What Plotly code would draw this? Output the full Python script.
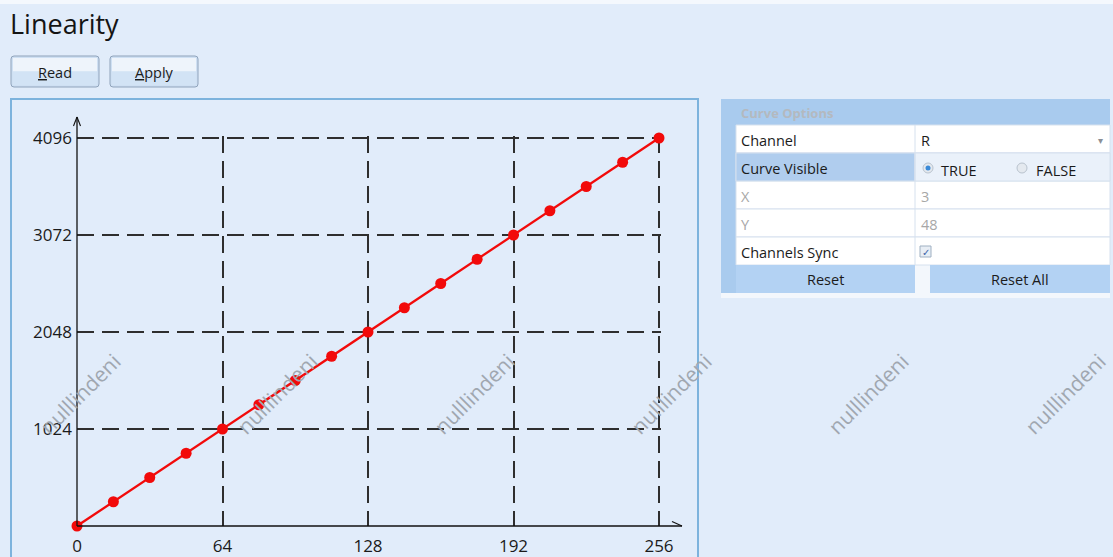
import plotly.graph_objects as go

# ---- data ----
input_levels = [0, 16, 32, 48, 64, 80, 96, 112, 128, 144, 160, 176, 192, 208, 224, 240, 256]
output_levels = [0, 256, 512, 768, 1024, 1280, 1536, 1792, 2048, 2304, 2560, 2816, 3072, 3328,
                 3584, 3840, 4096]
x_ticks = [0, 64, 128, 192, 256]
y_ticks = [1024, 2048, 3072, 4096]

W, H = 1113, 557
BG = "#e1ecfa"
FONT = "Open Sans"

# pixel frame of the plotting area (x: 0 -> 256, y: 0 -> 4096)
X0_PX, X1_PX = 77, 659
Y0_PX, Y1_PX = 526, 138
PAD = 2  # keep the outermost grid lines inside the plotting area


def px(x):
    return x / W


def py(y):
    return 1 - y / H


shapes = []
annotations = []


def rect(x0, y0, x1, y1, fill, line=None, lw=1, layer="below"):
    shapes.append(dict(type="rect", xref="paper", yref="paper",
                       x0=px(x0), x1=px(x1), y0=py(y1), y1=py(y0),
                       fillcolor=fill, layer=layer,
                       line=dict(color=line or fill, width=lw if line else 0)))


def seg(x0, y0, x1, y1, color, width=1, layer="above", dash="solid"):
    shapes.append(dict(type="line", xref="paper", yref="paper",
                       x0=px(x0), x1=px(x1), y0=py(y0), y1=py(y1), layer=layer,
                       line=dict(color=color, width=width, dash=dash)))


def text(x, y, s, size=15, color="#1b1b1b", xanchor="left", angle=0, family=FONT):
    annotations.append(dict(x=px(x), y=py(y), xref="paper", yref="paper", text=s,
                            showarrow=False, xanchor=xanchor, yanchor="middle",
                            textangle=angle,
                            font=dict(family=family, size=size, color=color)))


# top strip
rect(0, 0, W, 4, "#f4f8fd")

# title
text(8, 24, "Linearity", size=27, color="#141414")


# buttons
def button(x0, x1, label):
    y0, y1, r = 56, 87, 3
    path = (f"M {px(x0 + r)},{py(y0)} L {px(x1 - r)},{py(y0)} "
            f"Q {px(x1)},{py(y0)} {px(x1)},{py(y0 + r)} L {px(x1)},{py(y1 - r)} "
            f"Q {px(x1)},{py(y1)} {px(x1 - r)},{py(y1)} L {px(x0 + r)},{py(y1)} "
            f"Q {px(x0)},{py(y1)} {px(x0)},{py(y1 - r)} L {px(x0)},{py(y0 + r)} "
            f"Q {px(x0)},{py(y0)} {px(x0 + r)},{py(y0)} Z")
    shapes.append(dict(type="path", xref="paper", yref="paper", path=path,
                       fillcolor="#cfe0f3", layer="below",
                       line=dict(color="#8fa3bb", width=1)))
    rect(x0 + 2, y0 + 2, x1 - 2, (y0 + y1) / 2, "#eef4fb")
    rect(x0 + 2, (y0 + y1) / 2, x1 - 2, y1 - 2, "#d2e3f5")
    text((x0 + x1) / 2, 72, label, size=14.5, xanchor="center")


button(11, 99, "<span style='text-decoration:underline'>R</span>ead")
button(110, 198, "<span style='text-decoration:underline'>A</span>pply")

# chart frame
rect(11, 99, 698, 560, BG, line="#7db3dd", lw=2)

# axis lines with arrowheads
AX = "#111111"
seg(77, 526, 682, 526, AX, 1.3)
seg(77, 526, 77, 117, AX, 1.3)
seg(77, 117, 73.5, 126, AX, 1.1)
seg(77, 117, 80.5, 126, AX, 1.1)
seg(682, 526, 672, 521.5, AX, 1.1)

# ---- options panel ----
PX0, PX1, COL = 721, 1110, 915
BLUE = "#a9cbee"
rect(PX0, 99, PX1, 298, "#f3f7fc")
rect(PX0, 99, PX1, 125, BLUE)
rect(PX0, 99, 736, 293, BLUE)
rows = [(125, 153), (153, 181), (181, 209), (209, 237), (237, 265)]
for (a, b) in rows:
    rect(736, a, PX1, b, "#ffffff", line="#d6e1ee", lw=1)
rect(736, 153, COL, 181, "#b0cdee", line="#d6e1ee", lw=1)
rect(COL, 153, PX1, 181, "#eaf1fa", line="#d6e1ee", lw=1)
seg(COL, 125, COL, 265, "#d6e1ee", 1, layer="below")
rect(736, 265, COL, 293, "#b3d2f3")
rect(930, 265, PX1, 293, "#b3d2f3")

text(739, 113, "<b>Curve Options</b>", size=13, color="#b4b9bf")
text(739, 140, "Channel", size=14.5)
text(919, 140, "R", size=14.5)
text(1100, 140, "▾", size=10, color="#8a8f96", xanchor="center")
text(739, 168, "Curve Visible", size=14.5)
text(939, 170, "TRUE", size=14.5)
text(1034, 170, "FALSE", size=14.5)
text(739, 196, "X", size=14.5, color="#a7a7a7")
text(919, 196, "3", size=14.5, color="#a7a7a7")
text(739, 224, "Y", size=14.5, color="#a7a7a7")
text(919, 224, "48", size=14.5, color="#a7a7a7")
text(739, 252, "Channels Sync", size=14.5)
text(825, 279, "Reset", size=14.5, xanchor="center")
text(1020, 279, "Reset All", size=14.5, xanchor="center")

# radio buttons
for cx, on in [(928, True), (1022, False)]:
    shapes.append(dict(type="circle", xref="paper", yref="paper",
                       x0=px(cx - 5), x1=px(cx + 5), y0=py(173), y1=py(163),
                       fillcolor="#e4e9ef", line=dict(color="#b9c3ce", width=1), layer="above"))
    if on:
        shapes.append(dict(type="circle", xref="paper", yref="paper",
                           x0=px(cx - 2.5), x1=px(cx + 2.5), y0=py(170.5), y1=py(165.5),
                           fillcolor="#3a8ad8", line=dict(width=0), layer="above"))

# checkbox
rect(920, 246, 931, 257, "#e8eef5", line="#9fb0c2", lw=1, layer="above")
text(925.5, 251.5, "✓", size=10, color="#3a62a8", xanchor="center")

# watermark
for cx in [80, 277, 474, 671, 868, 1065]:
    text(cx, 394, "nulllindeni", size=21, color="#a0a7b0", xanchor="center", angle=-45)

# ---- linearity curve ----
fig = go.Figure(go.Scatter(
    x=input_levels, y=output_levels, mode="lines+markers",
    line=dict(color="#f20a0a", width=2.3),
    marker=dict(color="#f20a0a", size=11),
    cliponaxis=False, hoverinfo="skip"))

x_max = x_ticks[-1]
y_max = y_ticks[-1]
x_scale = (X1_PX - X0_PX) / x_max
y_scale = (Y0_PX - Y1_PX) / y_max

fig.update_layout(
    width=W, height=H, margin=dict(l=0, r=0, t=0, b=0, pad=0), autosize=False,
    paper_bgcolor=BG, plot_bgcolor="rgba(0,0,0,0)",
    showlegend=False, shapes=shapes, annotations=annotations,
    font=dict(family=FONT, size=17, color="#1b1b1b"),
    xaxis=dict(domain=[px(X0_PX), px(X1_PX + PAD)], range=[0, x_max + PAD / x_scale],
               automargin=False,
               tickvals=x_ticks, ticktext=[str(v) for v in x_ticks], showgrid=True,
               gridcolor="#2e2e2e", gridwidth=1.5, griddash="17px,8px",
               showline=False, zeroline=False, ticks="", ticklabelstandoff=8,
               tickfont=dict(size=17, color="#1b1b1b")),
    yaxis=dict(domain=[py(Y0_PX), py(Y1_PX - PAD)], range=[0, y_max + PAD / y_scale],
               automargin=False,
               tickvals=y_ticks, ticktext=[str(v) for v in y_ticks], showgrid=True,
               gridcolor="#2e2e2e", gridwidth=1.5, griddash="17px,8px",
               showline=False, zeroline=False, ticks="", ticklabelstandoff=4,
               tickfont=dict(size=17, color="#1b1b1b")),
)

page_css = (
    "var s=document.createElement('style');"
    "s.textContent='html,body{margin:0;padding:0;overflow:hidden;background:%s}';"
    "document.head.appendChild(s);" % BG
)
fig.write_html("out.html", config={"responsive": False}, post_script=page_css)
